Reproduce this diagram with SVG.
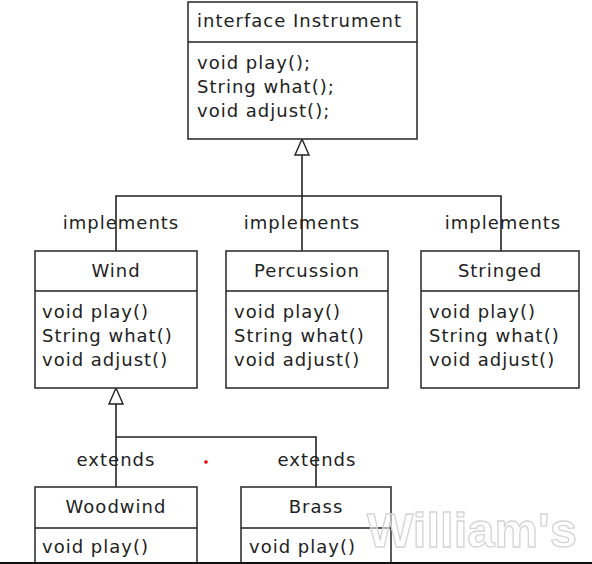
<svg xmlns="http://www.w3.org/2000/svg" width="592" height="564" viewBox="0 0 592 564">
<style>
.box{fill:#fff;stroke:#333;stroke-width:1.6}
.t{font-family:"DejaVu Sans",sans-serif;font-size:18px;letter-spacing:1px;fill:#222}
.c{text-anchor:middle}
.ln{fill:none;stroke:#222;stroke-width:1.6}
.head{fill:#fff;stroke:#222;stroke-width:1.4}
.wm{font-family:"Liberation Sans",Arial,sans-serif;font-weight:bold;font-size:49px;fill:#fff;fill-opacity:0.5;stroke:#d4d4d4;stroke-width:1.3}
</style>
<rect width="592" height="564" fill="#fff"/>
<g id="connectors">
<path class="ln" d="M302,155 V251"/>
<path class="ln" d="M116,251 V196 H501 V251"/>
<path class="head" d="M302,139 L309,155 L295,155 Z"/>
<path class="ln" d="M116,404 V487"/>
<path class="ln" d="M116,437 H316 V487"/>
<path class="head" d="M116,388 L123,404 L109,404 Z"/>
<text class="t c" x="121" y="229">implements</text>
<text class="t c" x="302" y="229">implements</text>
<text class="t c" x="503" y="229">implements</text>
<text class="t c" x="116" y="466">extends</text>
<text class="t c" x="317" y="466">extends</text>
</g>
<g id="instrument">
<rect class="box" x="188" y="2" width="229" height="137"/>
<line class="ln" x1="188" y1="42" x2="417" y2="42"/>
<text class="t" x="197" y="27">interface Instrument</text>
<text class="t" x="197" y="69">void play();</text>
<text class="t" x="197" y="93">String what();</text>
<text class="t" x="197" y="117">void adjust();</text>
</g>
<g id="wind">
<rect class="box" x="35" y="251" width="162" height="137"/>
<line class="ln" x1="35" y1="291" x2="197" y2="291"/>
<text class="t c" x="116" y="277">Wind</text>
<text class="t" x="42" y="318">void play()</text>
<text class="t" x="42" y="342">String what()</text>
<text class="t" x="42" y="366">void adjust()</text>
</g>
<g id="percussion">
<rect class="box" x="226" y="251" width="162" height="137"/>
<line class="ln" x1="226" y1="291" x2="388" y2="291"/>
<text class="t c" x="307" y="277">Percussion</text>
<text class="t" x="234" y="318">void play()</text>
<text class="t" x="234" y="342">String what()</text>
<text class="t" x="234" y="366">void adjust()</text>
</g>
<g id="stringed">
<rect class="box" x="421" y="251" width="158" height="137"/>
<line class="ln" x1="421" y1="291" x2="579" y2="291"/>
<text class="t c" x="500" y="277">Stringed</text>
<text class="t" x="429" y="318">void play()</text>
<text class="t" x="429" y="342">String what()</text>
<text class="t" x="429" y="366">void adjust()</text>
</g>
<g id="woodwind">
<rect class="box" x="35" y="487" width="162" height="90"/>
<line class="ln" x1="35" y1="528" x2="197" y2="528"/>
<text class="t c" x="116" y="513">Woodwind</text>
<text class="t" x="42" y="553">void play()</text>
</g>
<g id="brass">
<rect class="box" x="241" y="487" width="150" height="90"/>
<line class="ln" x1="241" y1="528" x2="391" y2="528"/>
<text class="t c" x="316" y="513">Brass</text>
<text class="t" x="249" y="553">void play()</text>
</g>
<circle cx="206" cy="462" r="1.8" fill="#d00"/>
<text class="wm" x="367" y="547">William's</text>
<rect x="0" y="562" width="592" height="2" fill="#111"/>
</svg>
